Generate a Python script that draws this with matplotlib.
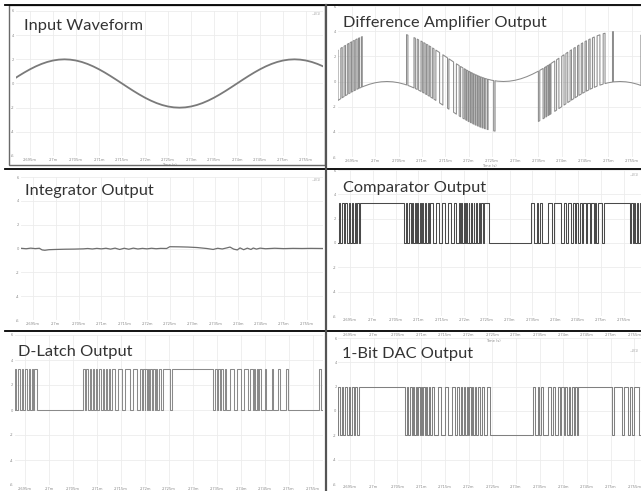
import numpy as np
import matplotlib
matplotlib.use("Agg")
import matplotlib.pyplot as plt
from matplotlib.lines import Line2D
from matplotlib.patches import Rectangle

W, H = 641, 491

# ---------------- data (time in microseconds) ----------------
tick_times = [2695, 2700, 2705, 2710, 2715, 2720, 2725, 2730, 2735, 2740, 2745, 2750, 2755]
tick_labels = ['2.695m', '2.7m', '2.705m', '2.71m', '2.715m', '2.72m', '2.725m',
               '2.73m', '2.735m', '2.74m', '2.745m', '2.75m', '2.755m']
y_ticks = [-6, -4, -2, 0, 2, 4, 6]

# input sine, sampled every 1.25 us from 2690 us
input_start, input_step = 2690.0, 1.25
input_v = [0.000, 0.313, 0.618, 0.908, 1.176, 1.414, 1.618, 1.782, 1.902, 1.975,
           2.000, 1.975, 1.902, 1.782, 1.618, 1.414, 1.176, 0.908, 0.618, 0.313,
           0.000, -0.313, -0.618, -0.908, -1.176, -1.414, -1.618, -1.782, -1.902, -1.975,
           -2.000, -1.975, -1.902, -1.782, -1.618, -1.414, -1.176, -0.908, -0.618, -0.313,
           0.000, 0.313, 0.618, 0.908, 1.176, 1.414, 1.618, 1.782, 1.902, 1.975,
           2.000, 1.975, 1.902, 1.782, 1.618, 1.414, 1.176]

# DAC state seen by the difference amplifier: intervals where DAC = +2
diff_dac_high = [(2692.0, 2692.6), (2692.9, 2693.3), (2693.6, 2694.0), (2694.3, 2694.6),
                 (2694.9, 2695.2), (2695.5, 2695.8), (2696.1, 2696.4), (2696.6, 2697.0),
                 (2697.2, 2706.7),
                 (2707.0, 2708.3), (2708.6, 2709.0), (2709.3, 2709.8), (2710.1, 2710.4),
                 (2710.7, 2711.0), (2711.3, 2711.6), (2711.9, 2712.3), (2712.6, 2713.0),
                 (2713.8, 2714.5), (2715.5, 2715.8), (2716.8, 2717.4), (2718.0, 2718.3),
                 (2718.8, 2719.1), (2719.4, 2719.6), (2719.9, 2720.1), (2720.4, 2720.6),
                 (2720.9, 2721.1), (2721.4, 2721.6), (2721.9, 2722.1), (2722.4, 2722.6),
                 (2722.9, 2723.1), (2723.4, 2723.6), (2724.0, 2724.2), (2725.4, 2725.7),
                 (2735.0, 2735.3), (2736.0, 2736.3), (2736.6, 2736.8), (2737.1, 2737.3),
                 (2737.5, 2737.7), (2738.5, 2738.9), (2739.4, 2740.0), (2740.5, 2740.9),
                 (2741.3, 2741.8), (2742.1, 2742.6), (2742.9, 2743.4), (2743.7, 2744.2),
                 (2744.5, 2745.0), (2745.3, 2745.8), (2746.1, 2746.6), (2747.0, 2747.6),
                 (2748.2, 2748.9), (2749.3, 2750.9), (2751.1, 2757.0)]

# integrator output samples
integ_t = [2692.3, 2693.5, 2694.5, 2695.5, 2696.4, 2697.0, 2697.6, 2698.5, 2700, 2702,
           2704, 2706, 2707, 2708, 2709, 2710, 2711, 2712, 2713, 2714, 2715, 2716, 2717,
           2718, 2719, 2720, 2721, 2722, 2723, 2724.3, 2725.0, 2727, 2729, 2731, 2733.1,
           2734.0, 2734.5, 2735.5, 2736.5, 2737.5, 2738.2, 2739, 2739.8, 2740.4, 2741.2,
           2742, 2742.8, 2743.3, 2744, 2744.8, 2746, 2748, 2750, 2752, 2754, 2756, 2758.7]
integ_v = [0.02, -0.02, 0.03, -0.01, 0.02, -0.12, -0.15, -0.10, -0.08, -0.06,
           -0.05, -0.03, 0.0, -0.04, 0.01, -0.03, 0.02, -0.05, 0.03, -0.08, 0.02, -0.06, 0.03,
           -0.04, 0.01, -0.03, 0.02, -0.02, 0.01, 0.0, 0.15, 0.14, 0.12, 0.08, 0.0,
           -0.05, -0.08, 0.02, -0.04, 0.05, 0.12, -0.05, -0.12, 0.05, -0.10,
           0.03, -0.08, 0.04, -0.05, 0.03, -0.02, 0.02, -0.01, 0.01, 0.0, 0.01, 0.0]

# comparator: intervals at high level
comp_high_level = 3.3
comp_high = [(2692.5, 2692.9), (2693.3, 2693.6), (2694.0, 2694.4), (2694.7, 2695.0),
             (2695.4, 2695.7), (2696.0, 2696.3), (2696.6, 2696.9), (2697.2, 2706.8),
             (2707.3, 2707.6), (2708.0, 2708.3), (2708.6, 2708.9), (2709.2, 2709.4),
             (2709.7, 2710.0), (2710.3, 2710.6), (2710.8, 2711.1), (2711.4, 2711.7),
             (2712.0, 2712.3), (2712.6, 2713.2), (2713.8, 2714.5), (2715.1, 2715.8),
             (2716.4, 2717.1), (2717.7, 2718.3), (2718.8, 2719.1), (2719.4, 2719.6),
             (2719.9, 2720.2), (2720.4, 2720.7), (2721.0, 2721.2), (2721.5, 2721.8),
             (2722.1, 2722.3), (2722.6, 2722.9), (2723.2, 2723.5), (2723.8, 2724.1),
             (2724.3, 2725.5),
             (2734.8, 2735.3), (2735.9, 2736.3), (2736.6, 2737.0), (2738.5, 2739.3),
             (2739.8, 2741.3), (2742.0, 2742.4), (2742.9, 2743.5), (2743.8, 2744.3),
             (2744.5, 2745.1), (2745.4, 2745.9), (2746.2, 2746.8), (2747.0, 2747.6),
             (2747.9, 2748.4), (2748.7, 2749.0), (2749.3, 2750.2), (2750.6, 2756.4),
             (2756.7, 2757.0), (2757.3, 2757.6), (2757.9, 2758.2), (2758.5, 2759.0)]

# D-latch: intervals at high level
latch_high_level = 3.3
latch_high = [(2692.9, 2693.2), (2693.5, 2693.9), (2694.3, 2694.6), (2695.0, 2695.4),
              (2695.8, 2696.1), (2696.4, 2696.6), (2696.9, 2697.4),
              (2707.1, 2707.4), (2707.8, 2708.1), (2708.5, 2708.8), (2709.2, 2709.4),
              (2709.8, 2710.1), (2710.5, 2710.8), (2711.2, 2711.4), (2711.8, 2712.1),
              (2712.5, 2712.8), (2713.2, 2713.8), (2714.4, 2715.3), (2715.8, 2716.9),
              (2717.4, 2718.4), (2718.9, 2719.3), (2719.6, 2719.9), (2720.1, 2720.4),
              (2720.6, 2720.9), (2721.1, 2721.4), (2721.7, 2722.0), (2722.3, 2722.6),
              (2722.9, 2723.3), (2723.8, 2725.3), (2725.7, 2734.2),
              (2734.6, 2735.0), (2735.3, 2735.6), (2735.9, 2736.3), (2736.6, 2736.9),
              (2737.8, 2738.6), (2739.2, 2740.0), (2740.6, 2741.4), (2741.9, 2742.4),
              (2742.8, 2743.0), (2743.3, 2743.5), (2743.8, 2744.1), (2745.0, 2745.3),
              (2746.4, 2746.7), (2747.8, 2748.1), (2749.4, 2749.7),
              (2756.3, 2756.6), (2757.0, 2757.2)]

# 1-bit DAC: intervals at +2 (otherwise -2)
dac_high = [(2692.5, 2692.9), (2693.3, 2693.6), (2694.0, 2694.4), (2694.8, 2695.1),
            (2695.5, 2695.8), (2696.1, 2696.4), (2696.8, 2706.6),
            (2707.0, 2707.3), (2707.7, 2708.0), (2708.3, 2708.6), (2708.9, 2709.1),
            (2709.4, 2709.7), (2710.0, 2710.2), (2710.5, 2710.8), (2711.1, 2711.3),
            (2711.6, 2711.9), (2712.3, 2712.8), (2713.6, 2714.2), (2715.0, 2715.6),
            (2716.5, 2717.2), (2717.6, 2718.0), (2718.4, 2718.7), (2719.0, 2719.3),
            (2719.6, 2719.9), (2720.2, 2720.5), (2720.8, 2721.0), (2721.3, 2721.6),
            (2722.1, 2722.4), (2722.9, 2723.2), (2723.8, 2724.5),
            (2733.7, 2734.1), (2734.6, 2734.9), (2735.4, 2735.8), (2736.8, 2737.3),
            (2737.8, 2738.3), (2738.8, 2739.2), (2739.6, 2740.1), (2740.4, 2740.8),
            (2741.1, 2741.5), (2741.8, 2742.2), (2742.5, 2742.9), (2743.2, 2750.3),
            (2750.7, 2752.4), (2752.8, 2753.6), (2754.0, 2754.4), (2754.9, 2756.0)]
dac_levels = (-2.0, 2.0)

titles = ['Input Waveform', 'Difference Amplifier Output', 'Integrator Output',
          'Comparator Output', 'D-Latch Output', '1-Bit DAC Output']

# ---------------- helpers ----------------
input_t = input_start + input_step * np.arange(len(input_v))


def vin(t):
    return np.interp(t, input_t, input_v)


def step_xy(intervals, lo, hi, t0, t1):
    xs, ys = [t0], [lo]
    for a, b in intervals:
        xs += [a, a, b, b]
        ys += [lo, hi, hi, lo]
    xs.append(t1)
    ys.append(lo)
    return np.array(xs), np.array(ys)


def diff_xy(high_intervals, t0, t1):
    segs = []
    cur = t0
    for a, b in high_intervals:
        if a > cur:
            segs.append((cur, a, -2.0))
        segs.append((max(a, cur), b, 2.0))
        cur = b
    if cur < t1:
        segs.append((cur, t1, -2.0))
    xs, ys = [], []
    for s, e, lvl in segs:
        inner = input_t[(input_t > s) & (input_t < e)]
        tt = np.concatenate([[s], inner, [e]])
        xs.extend(tt)
        ys.extend(vin(tt) - lvl)
    return np.array(xs), np.array(ys)


fig = plt.figure(figsize=(W / 100, H / 100), dpi=100)
fig.patch.set_facecolor('white')


def make_ax(x0, y0, x1, y1, t0px, tsp):
    ax = fig.add_axes([x0 / W, 1 - y1 / H, (x1 - x0) / W, (y1 - y0) / H])
    left = 2695 - (t0px - x0) / tsp * 5
    right = 2695 + (x1 - t0px) / tsp * 5
    ax.set_xlim(left, right)
    ax.set_ylim(-6, 6)
    ax.set_xticks(tick_times)
    ax.set_xticklabels(tick_labels)
    ax.set_yticks(y_ticks)
    ax.set_yticklabels([str(v) for v in y_ticks])
    ax.tick_params(length=0, labelsize=2.6, labelcolor='#8a8a8a', pad=1.5)
    ax.grid(True, color='#ececec', lw=0.6)
    for s in ax.spines.values():
        s.set_visible(False)
    ax.set_facecolor('white')
    ax.set_axisbelow(True)
    return ax, left, right


# Panel 1: input
ax1, l1, r1 = make_ax(16, 11, 323, 156, 30, 23)
ax1.plot(input_t, input_v, color='#7a7a7a', lw=1.3)
ax1.set_xlabel('Time (s)', fontsize=2.6, color='#8a8a8a', labelpad=1)

# Panel 2: difference amplifier
ax2, l2, r2 = make_ax(338, 6, 641, 157, 352, 23.3)
dx, dy = diff_xy(diff_dac_high, l2, r2)
ax2.plot(dx, dy, color='#8c8c8c', lw=0.75)
ax2.set_xlabel('Time (s)', fontsize=2.6, color='#8a8a8a', labelpad=1)

# Panel 3: integrator
ax3, l3, r3 = make_ax(21, 177, 323, 320, 33, 22.8)
ax3.plot(integ_t, integ_v, color='#6e6e6e', lw=0.9)

# Panel 4: comparator
ax4, l4, r4 = make_ax(338, 170, 641, 316, 350, 22.8)
cx, cy = step_xy(comp_high, 0.0, comp_high_level, l4, r4)
ax4.plot(cx, cy, color='#4a4a4a', lw=0.75)

# Panel 5: D-latch
ax5, l5, r5 = make_ax(15, 335, 323, 485, 25, 24)
lx, ly = step_xy(latch_high, 0.0, latch_high_level, l5, r5)
ax5.plot(lx, ly, color='#8a8a8a', lw=0.75)

# Panel 6: DAC (screenshot still shows the previous plot's time labels on top)
ax6, l6, r6 = make_ax(338, 338, 641, 484, 350, 23.7)
ax6x, ax6y = step_xy(dac_high, dac_levels[0], dac_levels[1], l6, r6)
ax6.plot(ax6x, ax6y, color='#808080', lw=0.75)
ax6.tick_params(top=True, labeltop=True, length=0, pad=1.0)
fig.text(493 / W, 1 - 341 / H, 'Time (s)', fontsize=2.6, color='#8a8a8a', ha='center', va='center')

# tiny legends
for (x, y) in [(312, 14), (312, 180), (630, 175), (630, 351)]:
    fig.text(x / W, 1 - y / H, '\u2014V(1)', fontsize=2.2, color='#999999', va='center')

# titles
title_pos = [(24, 30), (343, 27), (25, 195), (343, 192), (18, 356), (342, 358)]
for txt, (x, y) in zip(titles, title_pos):
    fig.text(x / W, 1 - y / H, txt, fontsize=11.8, family=['Lato', 'DejaVu Sans'],
             color='#333333', va='baseline', ha='left')


# separators
def hline(y, x0, x1, color='black', lw=1.3):
    fig.add_artist(Line2D([x0 / W, x1 / W], [1 - y / H, 1 - y / H], color=color, lw=lw))


def vline(x, y0, y1, color='#555555', lw=1.6):
    fig.add_artist(Line2D([x / W, x / W], [1 - y0 / H, 1 - y1 / H], color=color, lw=lw))


fig.add_artist(Rectangle((9 / W, 1 - 165 / H), (325 - 9) / W, (165 - 5) / H,
                         fill=False, edgecolor='#6a6a6a', lw=1.0))
hline(5, 5, 641)
hline(169, 5, 641)
hline(331, 5, 641)
vline(325.5, 5, 491)

fig.savefig('out.png', dpi=100, facecolor='white')
